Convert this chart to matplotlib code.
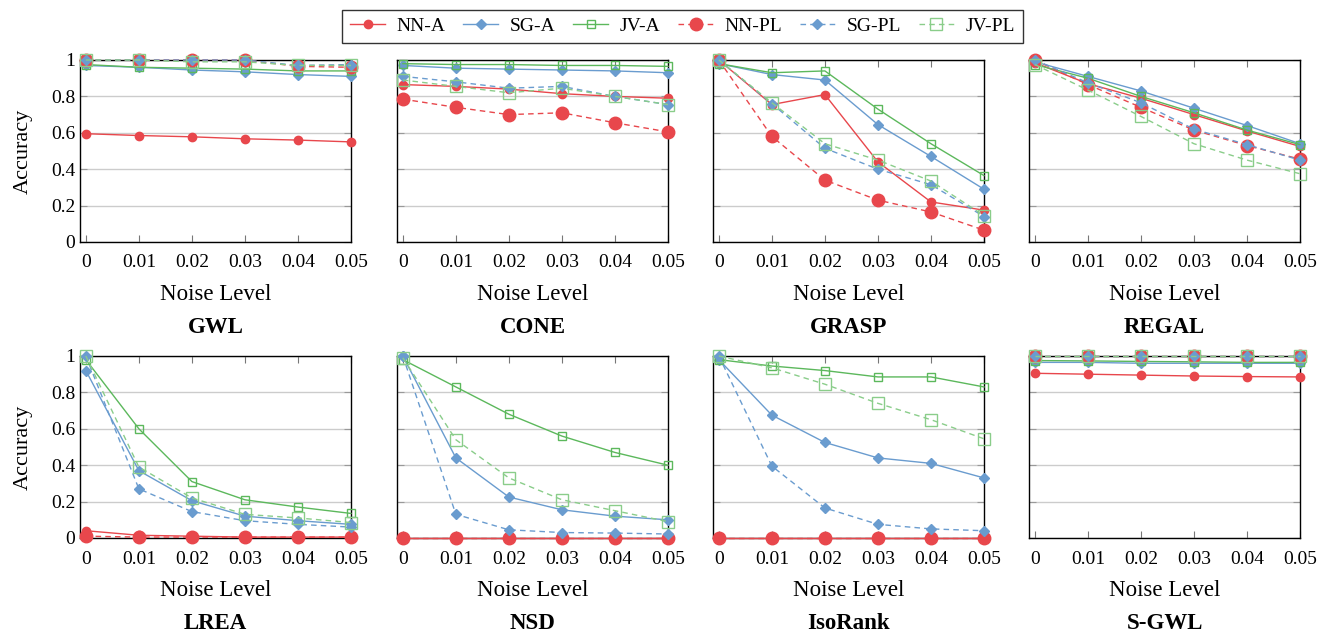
import matplotlib
matplotlib.use("Agg")
import matplotlib.pyplot as plt

plt.rcParams['font.family'] = ['Liberation Serif', 'DejaVu Serif']

noise = [0, 0.01, 0.02, 0.03, 0.04, 0.05]
tick_labels = ['0', '0.01', '0.02', '0.03', '0.04', '0.05']
methods = ['GWL', 'CONE', 'GRASP', 'REGAL', 'LREA', 'NSD', 'IsoRank', 'S-GWL']
series_names = ['NN-A', 'SG-A', 'JV-A', 'NN-PL', 'SG-PL', 'JV-PL']

# accuracy per method, one list per series (same order as series_names)
gwl = [
    [0.595, 0.585, 0.578, 0.567, 0.56, 0.55],
    [0.97, 0.96, 0.945, 0.935, 0.92, 0.91],
    [0.975, 0.96, 0.955, 0.95, 0.94, 0.94],
    [1.0, 1.0, 1.0, 1.0, 0.965, 0.96],
    [1.0, 1.0, 1.0, 1.0, 0.97, 0.975],
    [1.0, 1.0, 0.99, 0.99, 0.97, 0.97],
]
cone = [
    [0.865, 0.855, 0.84, 0.815, 0.80, 0.79],
    [0.97, 0.955, 0.95, 0.945, 0.94, 0.93],
    [0.98, 0.975, 0.975, 0.97, 0.97, 0.965],
    [0.785, 0.74, 0.70, 0.71, 0.655, 0.605],
    [0.91, 0.88, 0.845, 0.855, 0.80, 0.755],
    [0.89, 0.855, 0.82, 0.845, 0.80, 0.755],
]
grasp = [
    [1.0, 0.755, 0.81, 0.44, 0.22, 0.175],
    [0.98, 0.92, 0.89, 0.645, 0.47, 0.29],
    [0.98, 0.93, 0.94, 0.73, 0.54, 0.365],
    [1.0, 0.58, 0.34, 0.23, 0.165, 0.065],
    [1.0, 0.76, 0.515, 0.40, 0.315, 0.14],
    [1.0, 0.765, 0.54, 0.45, 0.335, 0.145],
]
regal = [
    [0.985, 0.87, 0.79, 0.70, 0.61, 0.525],
    [0.99, 0.91, 0.83, 0.735, 0.64, 0.54],
    [0.975, 0.90, 0.80, 0.71, 0.615, 0.535],
    [1.0, 0.865, 0.74, 0.615, 0.53, 0.455],
    [1.0, 0.875, 0.765, 0.62, 0.535, 0.45],
    [0.975, 0.835, 0.69, 0.54, 0.45, 0.375],
]
lrea = [
    [0.04, 0.015, 0.01, 0.005, 0.005, 0.005],
    [0.92, 0.37, 0.205, 0.12, 0.095, 0.075],
    [0.98, 0.60, 0.31, 0.21, 0.17, 0.135],
    [0.01, 0.005, 0.005, 0.005, 0.005, 0.005],
    [1.0, 0.27, 0.145, 0.095, 0.075, 0.06],
    [1.0, 0.39, 0.22, 0.13, 0.11, 0.085],
]
nsd = [
    [0.0, 0.0, 0.0, 0.0, 0.0, 0.0],
    [1.0, 0.44, 0.225, 0.155, 0.12, 0.10],
    [0.98, 0.83, 0.68, 0.56, 0.47, 0.40],
    [0.0, 0.0, 0.0, 0.0, 0.0, 0.0],
    [1.0, 0.13, 0.045, 0.03, 0.027, 0.022],
    [0.99, 0.54, 0.33, 0.21, 0.15, 0.09],
]
isorank = [
    [0.0, 0.0, 0.0, 0.0, 0.0, 0.0],
    [0.98, 0.675, 0.525, 0.44, 0.41, 0.33],
    [0.98, 0.945, 0.92, 0.885, 0.885, 0.83],
    [0.0, 0.0, 0.0, 0.0, 0.0, 0.0],
    [1.0, 0.395, 0.165, 0.075, 0.05, 0.04],
    [1.0, 0.935, 0.845, 0.74, 0.65, 0.545],
]
sgwl = [
    [0.905, 0.90, 0.895, 0.89, 0.887, 0.885],
    [0.965, 0.965, 0.96, 0.96, 0.96, 0.96],
    [0.975, 0.973, 0.97, 0.968, 0.965, 0.965],
    [1.0, 1.0, 1.0, 1.0, 1.0, 1.0],
    [1.0, 1.0, 1.0, 1.0, 1.0, 1.0],
    [1.0, 1.0, 1.0, 1.0, 1.0, 1.0],
]
all_data = [gwl, cone, grasp, regal, lrea, nsd, isorank, sgwl]

red = '#E8474C'
blue = '#6A9CCF'
green = '#5CB85C'
lgreen = '#8ACD8A'

styles = [
    dict(color=red, ls='-', marker='o', ms=6, mfc=red, mec=red),
    dict(color=blue, ls='-', marker='D', ms=5.5, mfc=blue, mec=blue),
    dict(color=green, ls='-', marker='s', ms=6, mfc='none', mec=green),
    dict(color=red, ls=(0, (4, 3)), marker='o', ms=9, mfc=red, mec=red),
    dict(color=blue, ls=(0, (4, 3)), marker='D', ms=5, mfc=blue, mec=blue),
    dict(color=lgreen, ls=(0, (4, 3)), marker='s', ms=9, mfc='none', mec=lgreen),
]

fig = plt.figure(figsize=(13.38, 6.42), dpi=100)

lefts = [80, 397, 713, 1029]
tops = [60, 356]
W, H = 1338.0, 642.0
aw, ah = 271, 182

handles = []
for i, (name, data) in enumerate(zip(methods, all_data)):
    r, c = divmod(i, 4)
    ax = fig.add_axes([lefts[c] / W, 1 - (tops[r] + ah) / H, aw / W, ah / H])
    for j, ys in enumerate(data):
        st = styles[j]
        h, = ax.plot(noise, ys, color=st['color'], ls=st['ls'], lw=1.0,
                     marker=st['marker'], ms=st['ms'], mfc=st['mfc'],
                     mec=st['mec'], mew=1.0, clip_on=False, zorder=3)
        if i == 0:
            handles.append(h)
    ax.set_xlim(-0.0011, 0.05)
    ax.set_ylim(0, 1)
    ax.set_xticks(noise)
    ax.set_xticklabels(tick_labels, fontsize=14)
    ax.set_yticks([0, 0.2, 0.4, 0.6, 0.8, 1])
    ax.grid(axis='y', color='#cccccc', lw=1.0)
    ax.tick_params(axis='x', direction='in', top=True, length=5, color='#777777', pad=9)
    ax.tick_params(axis='y', direction='in', right=True, length=5, color='#999999')
    if c == 0:
        ax.set_yticklabels(['0', '0.2', '0.4', '0.6', '0.8', '1'], fontsize=14)
        ax.set_ylabel('Accuracy', fontsize=16, labelpad=13)
    else:
        ax.set_yticklabels([])
    for sp in ax.spines.values():
        sp.set_color('black')
        sp.set_linewidth(1.0)
    ax.set_xlabel('Noise Level', fontsize=16.5, labelpad=9)
    ax.text(0.5, -0.47, name, transform=ax.transAxes, ha='center', va='center',
            fontsize=16.5, fontweight='bold')

fig.legend(handles, series_names, loc='upper center', bbox_to_anchor=(0.51, 1.0),
           ncol=6, fontsize=14, frameon=True, fancybox=False, edgecolor='black',
           handlelength=1.8, columnspacing=0.9, handletextpad=0.6,
           borderpad=0.4)

fig.savefig('out.png', dpi=100)
